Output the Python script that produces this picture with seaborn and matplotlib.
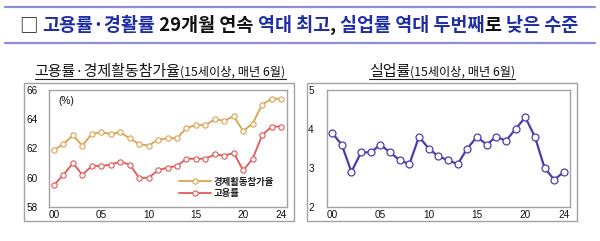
import matplotlib
matplotlib.use("Agg")
import matplotlib.pyplot as plt
import seaborn as sns
import pandas as pd
from matplotlib.patches import Rectangle
from matplotlib.lines import Line2D
from matplotlib.font_manager import FontProperties

# ---------------- data ----------------
years = list(range(2000, 2025))
lfpr = [61.9, 62.3, 62.9, 62.2, 63.0, 63.1, 63.0, 63.1, 62.7, 62.3, 62.2, 62.6, 62.7,
        62.7, 63.4, 63.6, 63.6, 64.0, 63.9, 64.2, 63.2, 63.7, 65.0, 65.4, 65.4]
emp = [59.5, 60.2, 61.0, 60.2, 60.8, 60.8, 60.9, 61.1, 60.9, 60.0, 60.0, 60.5, 60.7,
       60.8, 61.3, 61.3, 61.3, 61.6, 61.5, 61.7, 60.5, 61.3, 62.9, 63.5, 63.5]
unemp = [3.9, 3.6, 2.9, 3.4, 3.4, 3.6, 3.4, 3.2, 3.1, 3.8, 3.5, 3.3, 3.2,
         3.1, 3.5, 3.8, 3.6, 3.8, 3.7, 4.0, 4.3, 3.8, 3.0, 2.7, 2.9]
xtick_years = [2000, 2005, 2010, 2015, 2020, 2024]
xtick_labels = ["00", "05", "10", "15", "20", "24"]
left_yticks = [58, 60, 62, 64, 66]
right_yticks = [2, 3, 4, 5]
lfpr_label = "경제활동참가율"
emp_label = "고용률"

df = pd.DataFrame({"year": years, "lfpr": lfpr, "emp": emp, "unemp": unemp})

# ---------------- style ----------------
sns.set_theme(style="white")
plt.rcParams["font.family"] = ["Liberation Sans", "Noto Sans CJK KR", "DejaVu Sans"]
KR = ["Noto Sans CJK KR", "DejaVu Sans"]

ORANGE = "#DCA24F"
RED = "#E0595A"
PURPLE = "#4C3DAE"
BLUE = "#1F2FA3"
GRAY = "#A3A3A3"

W, H = 600, 241
fig = plt.figure(figsize=(6.0, 2.41), dpi=100)


def fx(px):
    return px / W


def fy(py):
    return (H - py) / H


renderer = fig.canvas.get_renderer()


def text_width(s, size, weight):
    t = fig.text(0, 0, s + "|", fontsize=size, fontweight=weight, family=KR)
    w1 = t.get_window_extent(renderer).width
    t.remove()
    t = fig.text(0, 0, "|", fontsize=size, fontweight=weight, family=KR)
    w2 = t.get_window_extent(renderer).width
    t.remove()
    return (w1 - w2) / W


def multi_text(parts, x0, y, center=False, underline_dy=None):
    # parts: list of (string, color, size, weight)
    total = 0.0
    widths = []
    for s, c, sz, wt in parts:
        w = text_width(s, sz, wt)
        widths.append(w)
        total += w
    x = x0 - total / 2 if center else x0
    start = x
    for (s, c, sz, wt), w in zip(parts, widths):
        fig.text(x, y, s, color=c, fontsize=sz, fontweight=wt, family=KR,
                 ha="left", va="baseline")
        x += w
    if underline_dy is not None:
        fig.add_artist(Line2D([start, x], [y - underline_dy, y - underline_dy],
                              color="#222222", lw=0.8, transform=fig.transFigure))


# ---------------- header ----------------
for py in (7, 43):
    fig.add_artist(Line2D([fx(5), fx(595)], [fy(py), fy(py)], color="#8C8CD8",
                          lw=1.6, transform=fig.transFigure))

TS = 13.3
multi_text([
    ("□ ", "#111111", TS, "normal"),
    ("고용률·경활률", BLUE, TS, "bold"),
    (" 29개월 연속 ", "#111111", TS, "bold"),
    ("역대 최고", BLUE, TS, "bold"),
    (", ", "#111111", TS, "bold"),
    ("실업률 역대 두번째", BLUE, TS, "bold"),
    ("로 ", "#111111", TS, "bold"),
    ("낮은 수준", BLUE, TS, "bold"),
], fx(299), fy(31), center=True)

# ---------------- subtitles ----------------
multi_text([
    ("고용률·경제활동참가율", "#111111", 10.8, "normal"),
    ("(15세이상, 매년 6월)", "#111111", 8.8, "normal"),
], fx(160), fy(76), center=True, underline_dy=3 / H)
multi_text([
    ("실업률", "#111111", 10.8, "normal"),
    ("(15세이상, 매년 6월)", "#111111", 8.8, "normal"),
], fx(442), fy(76), center=True, underline_dy=3 / H)

# ---------------- outer boxes ----------------
for l, r in ((24, 294), (307, 577)):
    fig.add_artist(Rectangle((fx(l), fy(221)), fx(r - l), (221 - 83) / H,
                             fill=False, edgecolor=GRAY, lw=1.0,
                             transform=fig.transFigure))

# ---------------- axes ----------------
axL = fig.add_axes([fx(49), fy(207), fx(287 - 49), (207 - 90) / H])
axR = fig.add_axes([fx(327), fy(207), fx(570 - 327), (207 - 90) / H])

sns.lineplot(data=df, x="year", y="lfpr", ax=axL, color=ORANGE, lw=1.3,
             marker="o", markersize=3.8, markerfacecolor="white",
             markeredgecolor=ORANGE, markeredgewidth=0.8, label=lfpr_label)
sns.lineplot(data=df, x="year", y="emp", ax=axL, color=RED, lw=1.3,
             marker="o", markersize=3.8, markerfacecolor="white",
             markeredgecolor=RED, markeredgewidth=0.8, label=emp_label)
sns.lineplot(data=df, x="year", y="unemp", ax=axR, color=PURPLE, lw=1.6,
             marker="o", markersize=5.0, markerfacecolor="white",
             markeredgecolor=PURPLE, markeredgewidth=0.9)

for ax, ylim, yt, ypad in ((axL, (58, 66), left_yticks, 16.5),
                           (axR, (2, 5), right_yticks, 13.5)):
    ax.set_xlim(2000 - 5 / 9.5, 2024 + 6 / 9.5)
    ax.set_ylim(*ylim)
    ax.set_xticks(xtick_years)
    ax.set_xticklabels(xtick_labels)
    ax.set_yticks(yt)
    ax.set_yticklabels([str(v) for v in yt])
    ax.set_xlabel("")
    ax.set_ylabel("")
    ax.tick_params(axis="both", length=0, labelsize=7.2, colors="#111111")
    ax.tick_params(axis="x", pad=2.5)
    ax.tick_params(axis="y", pad=ypad)
    for lab in ax.get_yticklabels():
        lab.set_horizontalalignment("left")
    for sp in ax.spines.values():
        sp.set_visible(True)
        sp.set_color(GRAY)
        sp.set_linewidth(1.0)
    ax.grid(False)
    ax.set_facecolor("white")

axL.text(0.04, 0.905, "(%)", transform=axL.transAxes, fontsize=7.2,
         ha="left", va="center", color="#111111")

leg = axL.legend(loc="upper left", bbox_to_anchor=(0.545, 0.26), frameon=False,
                 prop=FontProperties(family=KR, size=6.8, weight="bold"),
                 handlelength=3.4, handletextpad=0.3, labelspacing=0.15,
                 borderpad=0, borderaxespad=0)
for t in leg.get_texts():
    t.set_color("#222222")

fig.savefig("out.png", dpi=100, facecolor="white")
